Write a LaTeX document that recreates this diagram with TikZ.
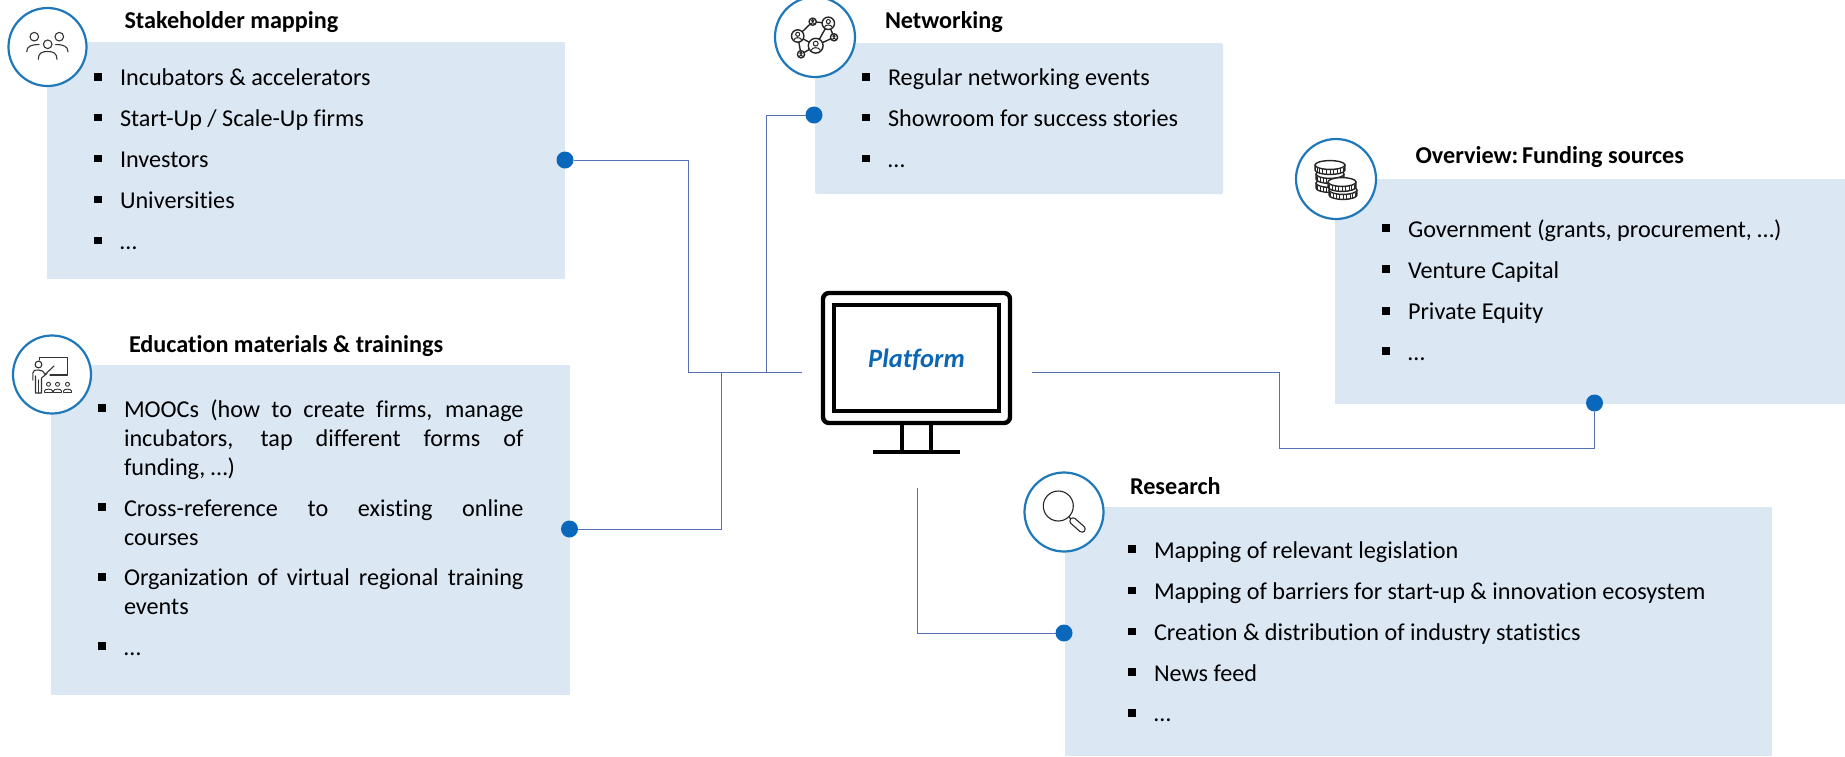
\documentclass[tikz,border=0pt]{standalone}
\usepackage{fontspec}
\setmainfont[Ligatures=NoCommon]{Carlito}
\definecolor{panelblue}{HTML}{DCE7F4}
\definecolor{ringblue}{HTML}{1F78B9}
\definecolor{dotblue}{HTML}{0A68BC}
\definecolor{linkblue}{HTML}{5570B4}
\definecolor{platformblue}{HTML}{0B66B5}
\newcommand{\listfont}{\fontsize{24.2}{29}\selectfont}
\newcommand{\titlefont}{\fontsize{24.2}{29}\selectfont\bfseries}
\tikzset{
  panel/.style={fill=panelblue,draw=none,anchor=north west,inner sep=0pt,outer sep=0pt},
  ring/.style={circle,draw=ringblue,line width=2.2pt,fill=white,minimum size=78pt,inner sep=0pt,outer sep=0pt},
  junction/.style={circle,fill=dotblue,minimum size=17pt,inner sep=0pt,outer sep=0pt},
  square/.style={fill=black,minimum size=7.5pt,inner sep=0pt,outer sep=0pt},
  listtext/.style={anchor=base west,inner sep=0pt,outer sep=0pt,font=\listfont,text=black},
  heading/.style={anchor=base west,inner sep=0pt,outer sep=0pt,font=\titlefont,text=black},
  link/.style={draw=linkblue,line width=0.9pt,line join=miter},
  icon/.style={draw=black!80,line width=1.1pt,line cap=round,line join=round},
  iconbold/.style={draw=black!85,line width=1.4pt,line cap=round,line join=round}
}
\newcommand{\itemrow}[6]{% name, bullet x, text x, bullet y, baseline y, text
  \node[square] (#1b) at (#2,#4) {};
  \node[listtext] (#1) at (#3,#5) {#6};
}
\newcommand{\netperson}[3]{% x,y,radius
  \draw[iconbold] (#1,#2) circle[radius=#3 pt];
  \draw[iconbold,line width=1pt] (#1,#2-0.28*#3) circle[radius=0.33*#3 pt];
  \draw[iconbold,line width=1pt] (#1-0.62*#3,#2+0.62*#3) .. controls (#1-0.5*#3,#2+0.15*#3) and (#1+0.5*#3,#2+0.15*#3) .. (#1+0.62*#3,#2+0.62*#3);
}
\newcommand{\coin}[3]{% x,y,rx
  \draw[iconbold,fill=white] (#1-#3,#2) -- (#1-#3,#2+5) arc[start angle=180,end angle=360,x radius=#3 pt,y radius=4.4pt] -- (#1+#3,#2);
  \foreach \a in {195,210,...,345}{
    \draw[black!85,line width=0.9pt] ({#1+#3*cos(\a)},{#2+4.4*abs(sin(\a))+0.5}) -- ({#1+#3*cos(\a)},{#2+4.4*abs(sin(\a))+5});
  }
  \draw[iconbold,fill=white] (#1,#2) ellipse[x radius=#3 pt,y radius=4.4pt];
}
\begin{document}
\begin{tikzpicture}[x=1pt,y=-1pt]
\useasboundingbox (0,0) rectangle (1845,756);
% panels
\node[panel,minimum width=518pt,minimum height=237pt] (sm) at (47,42) {};
\node[panel,minimum width=519pt,minimum height=330pt] (ed) at (51,365) {};
\node[panel,minimum width=408pt,minimum height=151pt,rounded corners=1.5pt] (nw) at (815,43) {};
\node[panel,minimum width=510pt,minimum height=225pt] (fu) at (1335,179) {};
\node[panel,minimum width=707pt,minimum height=249pt] (re) at (1065,507) {};
% free ends of connectors
\coordinate (hubL) at (802,372);
\coordinate (hubR) at (1032,372);
\coordinate (hubB) at (917,488);
% junction dots
\node[junction] (dsm) at (565,160) {};
\node[junction] (ded) at (569.5,529) {};
\node[junction] (dnw) at (814,115) {};
\node[junction] (dfu) at (1594.5,403) {};
\node[junction] (dre) at (1064,633) {};
% connectors
\draw[link] (dsm.east) -- (688,160) -- (688,372) -- (hubL);
\draw[link] (ded.east) -- (721,529) -- (721,372);
\draw[link] (dnw.west) -- (766,115) -- (766,372);
\draw[link] (hubR) -- (1279,372) -- (1279,448) -- (1594.5,448) -- (dfu.south);
\draw[link] (hubB) -- (917,633) -- (dre.west);
% rings
\node[ring] (r1) at (47.5,47) {};
\node[ring] (r2) at (52,374.5) {};
\node[ring,minimum size=80pt] (r3) at (815,37) {};
\node[ring,minimum size=80pt] (r4) at (1336,179) {};
\node[ring,minimum size=79pt] (r5) at (1064,512) {};
% headings
\node[heading] (t1) at (124.5,28) {Stakeholder mapping};
\node[heading] (t2) at (129,352) {Education materials \& trainings};
\node[heading] (t3) at (885,28) {Networking};
\node[heading] (t4) at (1415.6,163) {Overview:\kern-3.5pt{} Funding sources};
\node[heading] (t5) at (1130,494) {Research};
% list 1
\itemrow{a1}{98}{120}{77}{85.5}{Incubators \& accelerators}
\itemrow{a2}{98}{120}{117.5}{126.5}{Start-Up / Scale-Up firms}
\itemrow{a3}{98}{120}{158.5}{167.5}{Investors}
\itemrow{a4}{98}{120}{199.5}{208.5}{Universities}
\itemrow{a5}{98}{120}{240.5}{249}{…}
% list 2
\node[square] (b1b) at (102,408) {};
\node[listtext] (b1) at (124,417.5) {\makebox[399.5pt][s]{MOOCs (how to create firms, manage}};
\node[listtext] (b1x) at (124,446.5) {\makebox[399.5pt][s]{incubators, tap different forms of}};
\node[listtext] (b1y) at (124,475.5) {funding, …)};
\node[square] (b2b) at (102,507) {};
\node[listtext] (b2) at (124,516.5) {\makebox[399.5pt][s]{Cross-reference to existing online}};
\node[listtext] (b2x) at (124,545.5) {courses};
\node[square] (b3b) at (102,577) {};
\node[listtext] (b3) at (124,585.5) {\makebox[399.5pt][s]{Organization of virtual regional training}};
\node[listtext] (b3x) at (124,614.5) {events};
\node[square] (b4b) at (102,646) {};
\node[listtext] (b4) at (124,655) {…};
% list 3
\itemrow{c1}{866}{888}{77}{85.5}{Regular networking events}
\itemrow{c2}{866}{888}{117.5}{126.5}{Showroom for success stories}
\itemrow{c3}{866}{888}{158.5}{167}{…}
% list 4
\itemrow{d1}{1386}{1408}{228}{237.5}{Government (grants, procurement, …)}
\itemrow{d2}{1386}{1408}{269}{278.5}{Venture Capital}
\itemrow{d3}{1386}{1408}{311}{319.5}{Private Equity}
\itemrow{d4}{1386}{1408}{351}{360}{…}
% list 5
\itemrow{e1}{1132}{1154}{549}{558.5}{Mapping of relevant legislation}
\itemrow{e2}{1132}{1154}{590.5}{599.5}{Mapping of barriers for start-up \& innovation ecosystem}
\itemrow{e3}{1132}{1154}{631.5}{640.5}{Creation \& distribution of industry statistics}
\itemrow{e4}{1132}{1154}{672}{681}{News feed}
\itemrow{e5}{1132}{1154}{713}{721}{…}
% monitor
\node[draw=black,line width=4.4pt,rounded corners=6pt,minimum width=187pt,minimum height=130pt,inner sep=0pt,outer sep=0pt,fill=white] (mon) at (916.5,358) {};
\node[draw=black,line width=4.4pt,minimum width=165pt,minimum height=106pt,inner sep=0pt,outer sep=0pt,fill=white] (scr) at (916.5,358) {};
\draw[black,line width=4.4pt] (902,425) -- (902,451);
\draw[black,line width=4.4pt] (931,425) -- (931,451);
\draw[black,line width=4.4pt] (873,452) -- (960,452);
\node[inner sep=0pt,font=\fontsize{26.5}{30}\selectfont\bfseries\itshape,text=platformblue] (pf) at (916.5,359.5) {Platform};
% icon: people
\draw[icon] (34.3,36.7) circle[radius=4.3pt];
\draw[icon] (59.3,36.7) circle[radius=4.3pt];
\draw[icon] (47.7,44.3) circle[radius=4.3pt];
\draw[icon] (26.7,51.7) .. controls (26.7,46) and (32,44.5) .. (39,44.5);
\draw[icon] (68,51.7) .. controls (68,46) and (62.7,44.5) .. (55.7,44.5);
\draw[icon] (38.3,59.3) .. controls (38.3,53) and (42,51.5) .. (47.7,51.5) .. controls (53,51.5) and (57,53) .. (57,59.3);
% icon: teacher
\draw[icon] (39.3,360) -- (39.3,357.3) -- (67.3,357.3) -- (67.3,375) -- (50,375);
\draw[icon] (38.5,364.5) circle[radius=3.4pt];
\draw[icon] (35.5,393) -- (35.5,376) (32.8,380) -- (32.8,373) .. controls (32.8,370.5) and (35,370) .. (38.5,370) .. controls (42,370) and (43,371) .. (45,374.5) -- (54,366);
\draw[icon] (36,393) -- (41.5,393) -- (41.5,378) -- (47,373.5);
\draw[icon] (38.7,393) -- (38.7,380);
\foreach \sx in {48.5,57.5,67.5}{
  \draw[icon,line width=0.9pt] (\sx,384.3) circle[radius=2pt];
  \draw[icon,line width=0.9pt] (\sx-4,392.5) -- (\sx-4,391) .. controls (\sx-4,388.5) and (\sx+4,388.5) .. (\sx+4,391) -- (\sx+4,392.5) -- cycle;
}
% icon: network
\draw[iconbold] (797.7,36) -- (812.7,21.7) -- (828.3,23.3) -- (815.7,45.7) -- (797.7,36) -- (801,54.3) -- (815.7,45.7) -- (834,37.3) -- (828.3,23.3);
\fill[white] (797.7,36) circle[radius=6pt] (828.3,23.3) circle[radius=6pt] (815.7,45.7) circle[radius=7pt] (812.7,21.7) circle[radius=3.5pt] (834,37.3) circle[radius=3.5pt] (801,54.3) circle[radius=3.5pt];
\netperson{797.7}{36}{6.2}
\netperson{828.3}{23.3}{6.2}
\netperson{815.7}{45.7}{7.4}
\netperson{812.7}{21.7}{3.6}
\netperson{834}{37.3}{3.6}
\netperson{801}{54.3}{3.6}
% icon: coins
\coin{1330}{183}{14}
\coin{1330}{174}{14}
\coin{1330}{165}{15}
\coin{1343}{190}{14}
\coin{1342}{182}{14}
% icon: magnifier
\draw[icon,draw=black!85] (1058.3,506) circle[radius=15pt];
\draw[icon,draw=black!85] (1069,517) -- (1072,520);
\draw[black!85,line width=7.5pt,line cap=round] (1073,521) -- (1082,529);
\draw[white,line width=5pt,line cap=round] (1073,521) -- (1082,529);
\end{tikzpicture}
\end{document}
